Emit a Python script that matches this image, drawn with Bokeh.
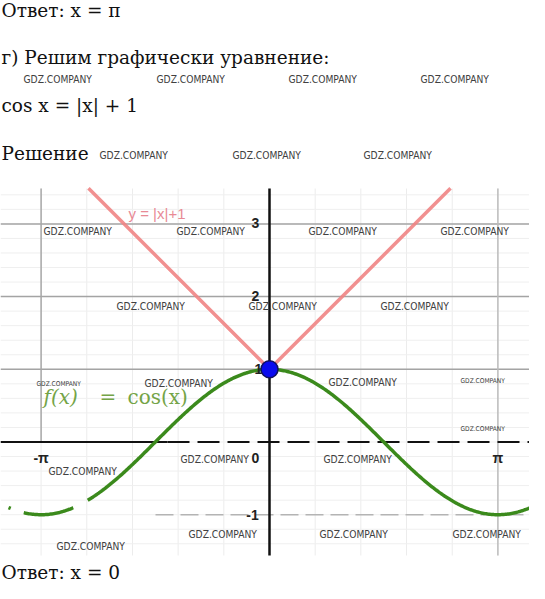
import numpy as np
from bokeh.plotting import figure
from bokeh.models import Range1d
from bokeh.core.properties import value
from bokeh.embed import file_html
from bokeh.resources import INLINE

# ---------------- data ----------------
x_tick_values = [-np.pi, 0.0, np.pi]
x_tick_labels = ["-π", "0", "π"]
y_tick_values = [3, 2, 1, -1]
y_tick_labels = ["3", "2", "1", "-1"]
major_y = [1, 2, 3]
major_x = [-np.pi, np.pi]
minor_x = [k * np.pi / 5 for k in range(-5, 6) if k != 0]
minor_y = [round(-1.4 + 0.2 * k, 1) for k in range(25)]
abs_x = [-2.49, 0.0, 2.49]          # y = |x| + 1
abs_y = [3.49, 1.0, 3.49]
cos_pieces = [(-3.59, -3.56), (-3.38, -2.70), (-2.50, 3.69)]   # visible pieces of f(x)=cos(x)
root_x = [0.0]
root_y = [1.0]

page_lines = ["Ответ: x = π", "г) Решим графически уравнение:", "cos x = |x| + 1",
              "Решение", "Ответ: x = 0"]
watermark = "GDZ.COMPANY"

# ---------------- layout ----------------
S = 72.7          # pixels per unit
X0, Y0 = 269.0, 441.5
W, H = 529, 583


def dx(xr):
    return (xr - X0) / S


def dy(yr):
    return (Y0 - yr) / S


TOP, BOT = dy(188), dy(555)
LEFT, RIGHT = dx(0), dx(W)

p = figure(width=W, height=H, output_backend="svg", toolbar_location=None,
           x_range=Range1d(dx(0), dx(W)), y_range=Range1d(dy(H), dy(0)),
           min_border=0)
p.axis.visible = False
p.grid.visible = False
p.outline_line_color = None
p.background_fill_color = "white"
p.border_fill_color = "white"

# minor grid
p.segment(x0=minor_x, y0=[BOT] * len(minor_x), x1=minor_x, y1=[TOP] * len(minor_x),
          line_color="#ececec", line_width=1)
p.segment(x0=[LEFT] * len(minor_y), y0=minor_y, x1=[RIGHT] * len(minor_y), y1=minor_y,
          line_color="#efefef", line_width=1)

# major grid
p.segment(x0=[LEFT] * len(major_y), y0=major_y, x1=[RIGHT] * len(major_y), y1=major_y,
          line_color="#a4a4a4", line_width=1.5)
p.segment(x0=[major_x[0]], y0=[0], x1=[major_x[0]], y1=[TOP], line_color="#a8a8a8", line_width=1.5)
p.segment(x0=[major_x[1]], y0=[BOT], x1=[major_x[1]], y1=[TOP], line_color="#bcbcbc", line_width=1.5)
p.segment(x0=[dx(155)], y0=[-1], x1=[RIGHT], y1=[-1], line_color="#b4b4b4",
          line_width=1.5, line_dash="18 7")

# axes
p.segment(x0=[LEFT], y0=[0], x1=[dx(167)], y1=[0], line_color="#111111", line_width=2)
p.segment(x0=[dx(167)], y0=[0], x1=[RIGHT], y1=[0], line_color="#111111", line_width=2,
          line_dash="22 8")
p.segment(x0=[0], y0=[BOT], x1=[0], y1=[TOP], line_color="#111111", line_width=2.5)

# y = |x| + 1
p.line(abs_x, abs_y, line_color="#ef8484", line_width=3.5, line_alpha=0.9)

# f(x) = cos(x)
for a, b in cos_pieces:
    xs = np.linspace(a, b, max(2, int((b - a) * 60)))
    p.line(xs, np.cos(xs), line_color="#3b8a1c", line_width=3.5)

# intersection point
p.scatter(root_x, root_y, size=17, fill_color="#0a0aee", line_color="#101060", line_width=1.5)

# tick labels
tick_font = value("Liberation Sans")
p.text(x=[0] * len(y_tick_values), y=y_tick_values, text=y_tick_labels,
       x_offset=[-14, -14, -11, -17], y_offset=[-1, -1, 0, 0],
       text_align="center", text_baseline="middle", text_font=tick_font,
       text_font_size="14px", text_font_style="bold", text_color="#222222")
p.text(x=x_tick_values, y=[0] * 3, text=x_tick_labels, x_offset=[0, -14, 0], y_offset=[15.5, 15.5, 15.5],
       text_align="center", text_baseline="middle", text_font=tick_font,
       text_font_size="14px", text_font_style="bold", text_color="#222222")

# curve labels
p.text(x=[dx(128)], y=[dy(213)], text=["y = |x|+1"], text_baseline="middle",
       text_font=value("Liberation Sans"), text_font_size="15px", text_color="#e88a95")
serif = value("DejaVu Serif")
p.text(x=[dx(43)], y=[dy(396)], text=["f(x)"], text_baseline="middle", text_font=serif,
       text_font_style="italic", text_font_size="20px", text_color="#74a447")
p.text(x=[dx(99)], y=[dy(396)], text=["="], text_baseline="middle", text_font=serif,
       text_font_size="20px", text_color="#74a447")
p.text(x=[dx(127)], y=[dy(396)], text=["cos(x)"], text_baseline="middle", text_font=serif,
       text_font_size="20px", text_color="#74a447")

# page text (vertical centres of the lines)
line_pos = [(1, 10), (1, 57), (1, 105), (1, 153), (1, 572)]
for t, (xr, yr) in zip(page_lines, line_pos):
    p.text(x=[dx(xr)], y=[dy(yr)], text=[t], text_baseline="middle",
           text_font=serif, text_font_size="18.5px", text_color="#111111")

# watermarks
wm_pos = [(23, 79, 1), (156, 79, 1), (288, 79, 1), (420, 79, 1),
          (99, 155, 1), (232, 155, 1), (363, 155, 1),
          (43, 231, 1), (176, 231, 1), (308, 231, 1), (440, 231, 1),
          (116, 306, 1), (248, 306, 1), (380, 306, 1),
          (36, 383, 0.65), (144, 383, 1), (328, 382, 1), (460, 380, 0.65), (460, 428, 0.65),
          (180, 459, 1), (323, 459, 1), (48, 471, 1),
          (188, 534, 1), (319, 534, 1), (452, 534, 1), (56, 546, 1)]
for xr, yr, sc in wm_pos:
    p.text(x=[dx(xr)], y=[dy(yr)], text=[watermark], text_baseline="middle",
           text_font=value("DejaVu Sans Condensed"), text_font_size=f"{10.2 * sc:.1f}px",
           text_color="#404040")

open("out.html", "w").write(file_html(p, INLINE))
